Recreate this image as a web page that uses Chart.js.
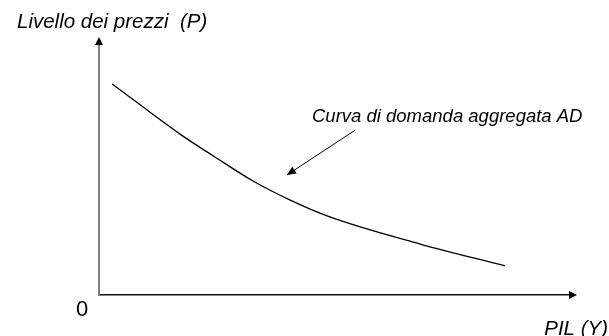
<!DOCTYPE html>
<html>
<head>
<meta charset="utf-8">
<script src="https://cdn.jsdelivr.net/npm/chart.js@4"></script>
<style>
  html, body { margin: 0; padding: 0; background: #fff; }
  #wrap { width: 609px; height: 336px; position: relative; }
</style>
</head>
<body>
<div id="wrap"><canvas id="adChart"></canvas></div>
<script>
// Curva AD (unità arbitrarie, assi 0-100)
const adX = [2.8, 17.2, 24.6, 32.7, 40.6, 49.0, 68.2, 86.2];
const adY = [84.1, 64.1, 55.0, 45.4, 37.8, 31.1, 20.3, 11.6];

// freccia dell'etichetta: coda -> punta
const arrowX = [54.4, 39.9];
const arrowY = [65.7, 47.8];

const yLabel = 'Livello dei prezzi  (P)';
const xLabel = 'PIL (Y)';
const curveLabel = 'Curva di domanda aggregata AD';
const originLabel = '0';

const FONT = '"Liberation Sans", Arial, sans-serif';

function arrowHead(ctx, x, y, angle, len, half) {
  ctx.save();
  ctx.translate(x, y);
  ctx.rotate(angle);
  ctx.beginPath();
  ctx.moveTo(0, 0);
  ctx.lineTo(-len, -half);
  ctx.lineTo(-len, half);
  ctx.closePath();
  ctx.fill();
  ctx.restore();
}

const decorations = {
  id: 'decorations',
  afterDraw(chart) {
    const { ctx, chartArea: a, scales: { x, y } } = chart;
    ctx.save();
    // punte degli assi
    ctx.fillStyle = '#808080';
    ctx.fillRect(a.left - 1, a.top, 2, 1);
    ctx.fillStyle = '#000';
    arrowHead(ctx, a.left, a.top - 7, -Math.PI / 2, 8, 4);
    arrowHead(ctx, a.right + 7, a.bottom, 0, 8, 4);

    // freccia verso la curva
    const x0 = x.getPixelForValue(arrowX[0]), y0 = y.getPixelForValue(arrowY[0]);
    const x1 = x.getPixelForValue(arrowX[1]), y1 = y.getPixelForValue(arrowY[1]);
    ctx.strokeStyle = '#000';
    ctx.lineWidth = 1;
    ctx.beginPath();
    ctx.moveTo(x0, y0);
    ctx.lineTo(x1, y1);
    ctx.stroke();
    arrowHead(ctx, x1, y1, Math.atan2(y1 - y0, x1 - x0), 9, 4);

    // testi
    ctx.fillStyle = '#000';
    ctx.textBaseline = 'middle';
    ctx.textAlign = 'left';
    ctx.font = 'italic 20.5px ' + FONT;
    ctx.fillText(yLabel, 17, 22);
    ctx.font = 'italic 18.5px ' + FONT;
    ctx.fillText(curveLabel, 312, 117);
    ctx.textAlign = 'right';
    ctx.font = 'italic 20.5px ' + FONT;
    ctx.fillText(xLabel, 608, 329);
    ctx.font = '22px ' + FONT;
    ctx.textAlign = 'center';
    ctx.fillText(originLabel, 82, 310);
    ctx.restore();
  }
};

new Chart(document.getElementById('adChart'), {
  type: 'scatter',
  data: {
    datasets: [{
      data: adX.map((v, i) => ({ x: v, y: adY[i] })),
      showLine: true,
      borderColor: '#000',
      borderWidth: 1.3,
      pointRadius: 0,
      cubicInterpolationMode: 'monotone',
      fill: false
    }]
  },
  options: {
    responsive: true,
    maintainAspectRatio: false,
    animation: false,
    layout: { padding: { left: 99, top: 44, right: 39, bottom: 41 } },
    plugins: { legend: { display: false }, tooltip: { enabled: false } },
    scales: {
      x: {
        type: 'linear', min: 0, max: 100,
        ticks: { display: false },
        grid: { display: false, drawTicks: false },
        border: { display: true, color: '#111', width: 1.5 }
      },
      y: {
        type: 'linear', min: 0, max: 100,
        ticks: { display: false },
        grid: { display: false, drawTicks: false },
        border: { display: true, color: '#808080', width: 2 }
      }
    }
  },
  plugins: [decorations]
});
</script>
</body>
</html>
